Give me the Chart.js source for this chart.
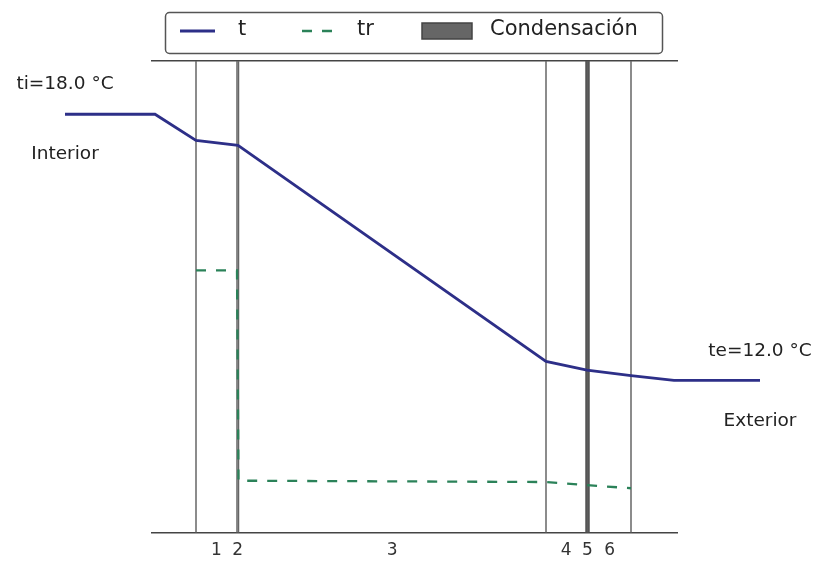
<!DOCTYPE html>
<html lang="es">
<head>
<meta charset="UTF-8">
<title>Perfil de temperaturas</title>
<script src="https://cdn.jsdelivr.net/npm/chart.js@4"></script>
</head>
<body style="margin:0; background:#fff;">
<div style="width:830px; height:563px; position:relative;">
    <canvas id="grafico"></canvas>
</div>
<script>
// temperatura t (°C) a lo largo del muro
const posT = [-87, 3, 44, 86, 394, 435, 479, 522, 608];
const t    = [18.0, 18.0, 17.41, 17.30, 12.43, 12.23, 12.11, 12.0, 12.0];
// temperatura de rocío tr (°C)
const posTr = [44, 85, 86.5, 394, 435, 479];
const tr    = [14.48, 14.48, 9.74, 9.71, 9.64, 9.57];
// límites de las capas y sus nombres
const limites = [44, 85, 86.5, 394, 434.5, 436.5, 479];
const capas = ['1', '2', '3', '4', '5', '6'];
const rangoX = [0, 525];
const rangoY = [8.57, 19.2];

const FUENTE = '"DejaVu Sans", sans-serif';
const AZUL = '#2d2f88';
const VERDE = '#2b8259';

const puntos = (xs, ys) => xs.map((x, i) => ({ x: x, y: ys[i] }));
const centros = capas.map((_, i) => (limites[i] + limites[i + 1]) / 2);

// líneas verticales de cada capa
const lineasCapa = limites.map((b, i) => {
    const gruesa = (i === 4 || i === 5);
    return {
        label: '_capa' + i,
        data: [{ x: b, y: rangoY[0] }, { x: b, y: rangoY[1] }],
        borderColor: gruesa ? '#555' : '#666',
        borderWidth: gruesa ? 2.5 : 1.5,
        pointRadius: 0,
        clip: false
    };
});

// leyenda con marco redondeado
const leyenda = {
    id: 'leyenda',
    afterDraw(chart) {
        const ctx = chart.ctx;
        const ds = chart.data.datasets;
        const cy = 31;
        ctx.save();
        ctx.beginPath();
        ctx.roundRect(165.5, 12.5, 497, 41, 4);
        ctx.fillStyle = 'rgba(255,255,255,0.9)';
        ctx.fill();
        ctx.strokeStyle = '#555';
        ctx.lineWidth = 1.5;
        ctx.stroke();

        ctx.font = '21px ' + FUENTE;
        ctx.textBaseline = 'middle';
        ctx.fillStyle = '#222';

        // t
        ctx.beginPath();
        ctx.strokeStyle = ds[0].borderColor;
        ctx.lineWidth = ds[0].borderWidth;
        ctx.moveTo(180, cy); ctx.lineTo(215, cy);
        ctx.stroke();
        ctx.fillText(ds[0].label, 238, cy - 1);

        // tr
        ctx.beginPath();
        ctx.strokeStyle = ds[1].borderColor;
        ctx.lineWidth = ds[1].borderWidth;
        ctx.setLineDash(ds[1].borderDash);
        ctx.moveTo(302, cy); ctx.lineTo(334, cy);
        ctx.stroke();
        ctx.setLineDash([]);
        ctx.fillText(ds[1].label, 357, cy - 1);

        // Condensación
        ctx.fillStyle = ds[2].backgroundColor;
        ctx.fillRect(422, cy - 8, 50, 16);
        ctx.strokeStyle = ds[2].borderColor;
        ctx.lineWidth = 1.5;
        ctx.strokeRect(422, cy - 8, 50, 16);
        ctx.fillStyle = '#222';
        ctx.fillText(ds[2].label, 490, cy - 1);
        ctx.restore();
    }
};

// rótulos interior / exterior
const rotulos = {
    id: 'rotulos',
    afterDatasetsDraw(chart) {
        const ctx = chart.ctx;
        const x = chart.scales.x, y = chart.scales.y;
        const xi = x.getPixelForValue(posT[0]);
        const xe = x.getPixelForValue(posT[posT.length - 1]);
        const yi = y.getPixelForValue(t[0]);
        const ye = y.getPixelForValue(t[t.length - 1]);
        ctx.save();
        ctx.font = '18.5px ' + FUENTE;
        ctx.fillStyle = '#222';
        ctx.textAlign = 'center';
        ctx.textBaseline = 'middle';
        ctx.fillText('ti=' + t[0].toFixed(1) + ' °C', xi, yi - 30);
        ctx.fillText('Interior', xi, yi + 40);
        ctx.fillText('te=' + t[t.length - 1].toFixed(1) + ' °C', xe, ye - 29);
        ctx.fillText('Exterior', xe, ye + 41);
        ctx.restore();
    }
};

new Chart(document.getElementById('grafico'), {
    type: 'line',
    data: {
        datasets: [{
            label: 't',
            data: puntos(posT, t),
            borderColor: AZUL,
            borderWidth: 2.8,
            pointRadius: 0,
            clip: false
        }, {
            label: 'tr',
            data: puntos(posTr, tr),
            borderColor: VERDE,
            borderWidth: 2.3,
            borderDash: [10, 10],
            pointRadius: 0,
            clip: false
        }, {
            label: 'Condensación',
            data: [],
            backgroundColor: '#666',
            borderColor: '#444',
            pointRadius: 0
        }].concat(lineasCapa)
    },
    options: {
        responsive: true,
        maintainAspectRatio: false,
        animation: false,
        layout: { padding: { left: 152, right: 153, top: 61, bottom: -6 } },
        plugins: {
            legend: { display: false },
            tooltip: { enabled: false }
        },
        scales: {
            x: {
                type: 'linear',
                position: 'bottom',
                min: rangoX[0],
                max: rangoX[1],
                grid: { display: false, drawTicks: false },
                border: { display: true, color: '#444', width: 1.5 },
                afterBuildTicks: (axis) => {
                    axis.ticks = centros.map(v => ({ value: v }));
                },
                ticks: {
                    autoSkip: false,
                    maxRotation: 0,
                    padding: 8,
                    color: '#333',
                    font: { family: FUENTE, size: 17 },
                    callback: (v, i) => capas[i]
                }
            },
            xArriba: {
                type: 'linear',
                position: 'top',
                min: rangoX[0],
                max: rangoX[1],
                grid: { display: false, drawTicks: false },
                border: { display: true, color: '#444', width: 1.5 },
                ticks: { display: false }
            },
            y: {
                display: false,
                min: rangoY[0],
                max: rangoY[1]
            }
        }
    },
    plugins: [rotulos, leyenda]
});
</script>
</body>
</html>
